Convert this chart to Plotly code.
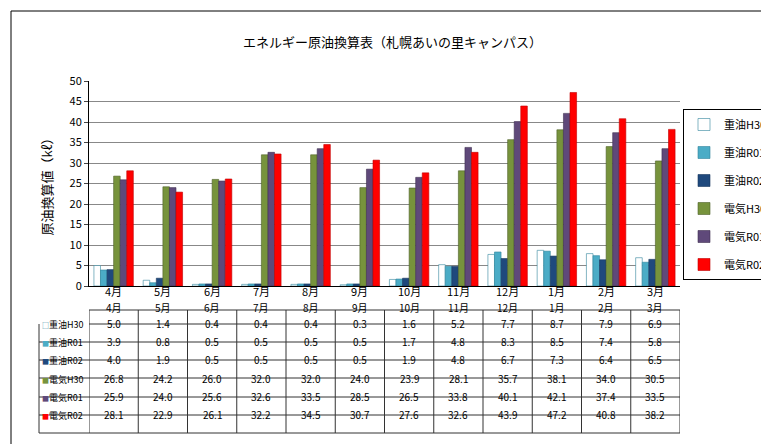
import plotly.graph_objects as go

months = ["4月","5月","6月","7月","8月","9月","10月","11月","12月","1月","2月","3月"]
series_names = ["重油H30","重油R01","重油R02","電気H30","電気R01","電気R02"]
juyu_h30 = [5.0,1.4,0.4,0.4,0.4,0.3,1.6,5.2,7.7,8.7,7.9,6.9]
juyu_r01 = [3.9,0.8,0.5,0.5,0.5,0.5,1.7,4.8,8.3,8.5,7.4,5.8]
juyu_r02 = [4.0,1.9,0.5,0.5,0.5,0.5,1.9,4.8,6.7,7.3,6.4,6.5]
denki_h30 = [26.8,24.2,26.0,32.0,32.0,24.0,23.9,28.1,35.7,38.1,34.0,30.5]
denki_r01 = [25.9,24.0,25.6,32.6,33.5,28.5,26.5,33.8,40.1,42.1,37.4,33.5]
denki_r02 = [28.1,22.9,26.1,32.2,34.5,30.7,27.6,32.6,43.9,47.2,40.8,38.2]
all_vals = [juyu_h30, juyu_r01, juyu_r02, denki_h30, denki_r01, denki_r02]

colors = ["#FFFFFF","#4BACC6","#1F497D","#77933C","#5F497A","#FF0000"]
outlines = ["#31859C","#31859C","#17375E","#4F6228","#3F3151","#C00000"]
glyphs = ["□","■","■","■","■","■"]
glyph_colors = ["#31859C","#4BACC6","#1F497D","#77933C","#5F497A","#FF0000"]

FONT = "Noto Sans CJK JP"
L, R, T, B = 81, 97, 73, 166
xs = list(range(len(months)))

fig = go.Figure()
for i, (name, vals) in enumerate(zip(series_names, all_vals)):
    fig.add_trace(go.Bar(x=xs, y=vals, name=name, marker=dict(color=colors[i], line=dict(color=outlines[i], width=0.6)),
                         legendgroup=name))

def py(p):
    return (278 - p) / 205

def px(p):
    return (p - L) / 591

shapes = []
ann = []
shapes.append(dict(type="rect", xref="paper", yref="paper", x0=px(3), x1=px(765), y0=py(440), y1=py(3),
                   line=dict(color="black", width=1)))
for i, m in enumerate(months):
    ann.append(dict(x=i, y=py(293), xref="x", yref="paper", text=m, showarrow=False, font=dict(size=11)))
row_lines = [302, 316, 334, 352, 370, 389, 407, 425]
for k, yl in enumerate(row_lines):
    if k < 2:
        shapes.append(dict(type="line", xref="x", yref="paper", x0=-0.5, x1=11.5, y0=py(yl), y1=py(yl), line=dict(color="#333", width=1)))
    else:
        shapes.append(dict(type="line", xref="paper", yref="paper", x0=px(31), x1=1, y0=py(yl), y1=py(yl), line=dict(color="#333", width=1)))
for j in range(13):
    shapes.append(dict(type="line", xref="x", yref="paper", x0=j-0.5, x1=j-0.5, y0=py(302), y1=py(425), line=dict(color="#333", width=1)))
shapes.append(dict(type="line", xref="paper", yref="paper", x0=px(31), x1=px(31), y0=py(316), y1=py(425), line=dict(color="#333", width=1)))
for i, m in enumerate(months):
    ann.append(dict(x=i, y=py(309), xref="x", yref="paper", text=m, showarrow=False, font=dict(size=10)))
row_centers = [325, 343, 361, 380, 398, 416]
for r, (name, vals) in enumerate(zip(series_names, all_vals)):
    ann.append(dict(x=px(32), y=py(row_centers[r]), xref="paper", yref="paper", xanchor="left", showarrow=False,
                    text=f"<span style='color:{glyph_colors[r]};font-size:7px'>{glyphs[r]}</span>{name}", font=dict(size=9)))
    for i, v in enumerate(vals):
        ann.append(dict(x=i, y=py(row_centers[r]), xref="x", yref="paper", text=f"{v:.1f}", showarrow=False, font=dict(size=10)))

fig.update_layout(
    width=769, height=444, margin=dict(l=L, r=R, t=T, b=B, autoexpand=False),
    paper_bgcolor="white", plot_bgcolor="white",
    font=dict(family=FONT, color="black", size=11),
    title=dict(text="エネルギー原油換算表（札幌あいの里キャンパス）", x=0.5, y=1-30/444, xanchor="center", font=dict(size=13)),
    barmode="group", bargap=0.2, bargroupgap=0.0,
    xaxis=dict(range=[-0.5, 11.5], showticklabels=False, showline=True, linecolor="black", ticks="", showgrid=False),
    yaxis=dict(range=[0, 50], dtick=5, showline=True, linecolor="black", ticks="outside", ticklen=4,
               gridcolor="#888", gridwidth=0.6, tickfont=dict(size=11),
               title=dict(text="原油換算値（kℓ）", font=dict(size=13), standoff=14)),
    legend=dict(x=px(675), y=py(101), xanchor="left", yanchor="top", font=dict(size=11),
                tracegroupgap=9, itemwidth=30, bgcolor="white", bordercolor="black", borderwidth=1),
    shapes=shapes, annotations=ann,
)
fig.write_html("out.html")
